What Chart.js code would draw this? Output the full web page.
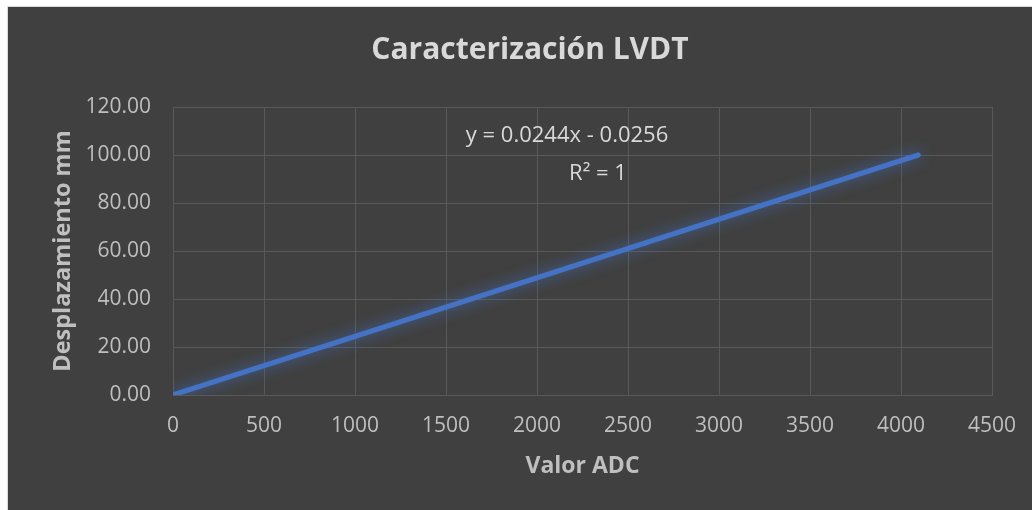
<!DOCTYPE html>
<html>
<head>
<meta charset="utf-8">
<script src="https://cdn.jsdelivr.net/npm/chart.js@4/dist/chart.umd.min.js"></script>
<style>
  html, body { margin: 0; padding: 0; background: #ffffff; overflow: hidden; }
  #wrap { width: 1032px; height: 510px; overflow: hidden; }
  #inner { width: 1052px; height: 510px; }
</style>
</head>
<body>
<div id="wrap"><div id="inner"><canvas id="lvdt"></canvas></div></div>
<script>
// Lecturas del ADC y desplazamiento medido
const adcValues = [0, 1024, 2048, 3072, 4095];
const displacementMm = [0, 25, 50, 75, 100];

const yTicks = [0, 20, 40, 60, 80, 100, 120];
const xTicks = [0, 500, 1000, 1500, 2000, 2500, 3000, 3500, 4000, 4500];

const chartTitle = 'Caracterización LVDT';
const trendLines = ['y = 0.0244x - 0.0256', 'R² = 1'];

const FONT = '"Open Sans", "Noto Sans", sans-serif';

// fondo oscuro con margen blanco y título centrado en el área del gráfico
const backgroundPlugin = {
  id: 'darkBackground',
  beforeDraw: (chart) => {
    const { ctx, width, height } = chart;
    ctx.save();
    ctx.fillStyle = '#ffffff';
    ctx.fillRect(0, 0, width, height);
    ctx.fillStyle = '#d9d9d9';
    ctx.fillRect(7, 6, width - 7, height - 6);
    ctx.fillStyle = '#404040';
    ctx.fillRect(8, 7, width - 8, height - 7);

    ctx.fillStyle = '#d9d9d9';
    ctx.font = 'bold 30px ' + FONT;
    ctx.textAlign = 'center';
    ctx.textBaseline = 'middle';
    ctx.fillText(chartTitle, (8 + width) / 2, 50);
    ctx.restore();
  }
};

// brillo azul alrededor de la línea
const glowPlugin = {
  id: 'lineGlow',
  beforeDatasetDraw: (chart) => {
    const { ctx } = chart;
    ctx.save();
    ctx.shadowColor = 'rgba(68, 114, 196, 0.85)';
    ctx.shadowBlur = 14;
  },
  afterDatasetDraw: (chart) => {
    chart.ctx.restore();
  }
};

// ecuación de la línea de tendencia
const trendLabelPlugin = {
  id: 'trendLabel',
  afterDatasetsDraw: (chart) => {
    const { ctx, scales } = chart;
    ctx.save();
    ctx.fillStyle = '#d9d9d9';
    ctx.font = '22px ' + FONT;
    ctx.textAlign = 'center';
    ctx.textBaseline = 'middle';
    ctx.fillText(trendLines[0], scales.x.getPixelForValue(2165), scales.y.getPixelForValue(108.2));
    ctx.fillText(trendLines[1], scales.x.getPixelForValue(2335), scales.y.getPixelForValue(92));
    ctx.restore();
  }
};

new Chart(document.getElementById('lvdt'), {
  type: 'scatter',
  data: {
    datasets: [{
      data: adcValues.map((v, i) => ({ x: v, y: displacementMm[i] })),
      showLine: true,
      borderColor: '#4472C4',
      borderWidth: 5,
      borderCapStyle: 'round',
      pointRadius: 0,
      tension: 0
    }]
  },
  options: {
    responsive: true,
    maintainAspectRatio: false,
    animation: false,
    layout: { padding: { left: 8, top: 107, right: 60, bottom: 0 } },
    plugins: {
      legend: { display: false },
      tooltip: { enabled: false },
      title: { display: false }
    },
    scales: {
      x: {
        type: 'linear',
        min: 0,
        max: 4500,
        afterBuildTicks: (axis) => { axis.ticks = xTicks.map(v => ({ value: v })); },
        afterFit: (axis) => { axis.height = 115; },
        ticks: {
          color: '#bfbfbf',
          font: { family: FONT, size: 21 },
          padding: 18,
          maxRotation: 0,
          callback: (v) => String(v)
        },
        grid: { color: '#595959', lineWidth: 1, drawTicks: false },
        border: { color: '#595959' },
        title: {
          display: true,
          text: 'Valor ADC',
          color: '#bfbfbf',
          font: { family: FONT, size: 23, weight: 'bold', lineHeight: 1.2 },
          padding: { top: 0, bottom: 30 }
        }
      },
      y: {
        type: 'linear',
        min: 0,
        max: 120,
        afterBuildTicks: (axis) => { axis.ticks = yTicks.map(v => ({ value: v })); },
        afterFit: (axis) => { axis.width = 165; },
        ticks: {
          color: '#bfbfbf',
          font: { family: FONT, size: 21 },
          padding: 22,
          callback: (v) => Number(v).toFixed(2)
        },
        grid: { color: '#595959', lineWidth: 1, drawTicks: false },
        border: { color: '#595959' },
        title: {
          display: true,
          text: 'Desplazamiento mm',
          color: '#bfbfbf',
          font: { family: FONT, size: 23.5, weight: 'bold', lineHeight: 1.2 },
          padding: { top: 41, bottom: 0 }
        }
      }
    }
  },
  plugins: [backgroundPlugin, glowPlugin, trendLabelPlugin]
});
</script>
</body>
</html>
